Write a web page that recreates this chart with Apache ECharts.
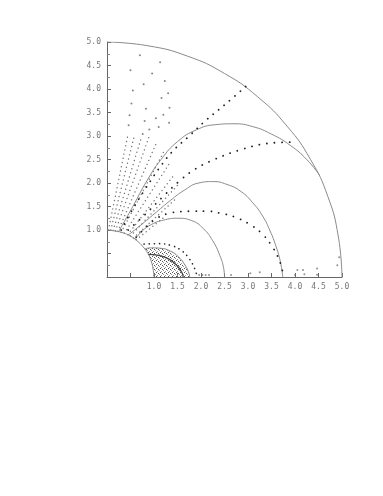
<!DOCTYPE html>
<html><head><meta charset="utf-8">
<script src="https://cdn.jsdelivr.net/npm/echarts@6/dist/echarts.min.js"></script>
<style>html,body{margin:0;padding:0;background:#fff}#c{width:383px;height:496px}</style>
</head><body><div id="c"></div>
<script>
// ---- data ----
const axisMin = 0, axisMax = 5, tickStep = 0.5;
const innerCircle = [[0,1],[0.17,0.98],[0.34,0.94],[0.5,0.87],[0.64,0.77],[0.77,0.64],[0.87,0.5],[0.94,0.34],[0.98,0.17],[1,0]];
const outerCircle = [[0,5],[0.87,4.92],[1.71,4.7],[2.5,4.33],[3.21,3.83],[3.83,3.21],[4.33,2.5],[4.7,1.71],[4.92,0.87],[5,0]];
const arcBig = [[0.25,0.97],[0.55,1.5],[0.85,2.05],[1.15,2.5],[1.5,2.88],[1.9,3.13],[2.3,3.24],[2.7,3.26],[3.1,3.2],[3.5,3.04],[3.9,2.8],[4.25,2.5],[4.52,2.17]];
const arc375 = [[0.45,0.89],[0.75,1.13],[1.05,1.38],[1.35,1.63],[1.65,1.85],[1.95,2.0],[2.25,2.03],[2.55,1.97],[2.85,1.82],[3.1,1.58],[3.31,1.3],[3.47,0.98],[3.6,0.64],[3.69,0.32],[3.74,0]];
const arc25 = [[0.6,0.8],[0.75,0.98],[0.95,1.12],[1.2,1.21],[1.5,1.25],[1.8,1.2],[2.05,1.03],[2.25,0.77],[2.4,0.46],[2.48,0.2],[2.5,0]];
const arcSmall = [[0.8,0.6],[0.95,0.62],[1.15,0.61],[1.35,0.55],[1.52,0.43],[1.65,0.27],[1.73,0.12],[1.76,0]];
const arcDense = [[0.88,0.48],[1.1,0.46],[1.32,0.38],[1.5,0.23],[1.6,0.08],[1.62,0]];
const stippleOutline = [[1,0],[0.98,0.17],[0.94,0.34],[0.87,0.5],[0.8,0.6],[0.95,0.62],[1.15,0.61],[1.35,0.55],[1.52,0.43],[1.65,0.27],[1.73,0.12],[1.76,0]];
const dots1 = [[0.3,1.0],[0.55,1.45],[0.8,1.85],[1.1,2.3],[1.4,2.68],[1.75,3.0],[2.1,3.33],[2.5,3.66],[2.97,4.07]];
const dots2 = [[0.45,1.0],[0.8,1.32],[1.2,1.72],[1.55,2.05],[1.85,2.28],[2.26,2.49],[2.82,2.7],[3.4,2.84],[3.96,2.87]];
const dots3 = [[0.62,0.85],[0.85,1.08],[1.06,1.25],[1.3,1.35],[1.58,1.39],[1.85,1.4],[2.12,1.4],[2.4,1.36],[2.71,1.28],[3.02,1.13],[3.3,0.92],[3.52,0.64],[3.68,0.32],[3.76,0]];
const dots4 = [[0.79,0.7],[1.1,0.71],[1.4,0.66],[1.6,0.55],[1.75,0.39],[1.86,0.19],[1.92,0]];
const fanRays = [
  [[0.03,1.0],[0.44,3.0]],
  [[0.08,1.0],[0.58,3.0]],
  [[0.13,0.99],[0.74,3.0]],
  [[0.18,0.98],[0.9,3.0]],
  [[0.23,0.97],[1.05,2.85]],
  [[0.3,0.95],[1.2,2.65]],
  [[0.37,0.93],[1.35,2.45]],
  [[0.44,0.9],[1.45,2.2]],
  [[0.5,0.87],[1.5,1.95]],
  [[0.56,0.83],[1.45,1.65]],
  [[0.62,0.79],[1.25,1.3]]
];
const sparseDots = [[0.7,4.72],[0.5,4.4],[1.13,4.57],[0.96,4.33],[0.78,4.1],[1.23,4.17],[0.55,3.97],[1.3,3.91],[1.16,3.81],[0.52,3.69],[0.83,3.58],[1.33,3.6],[1.2,3.45],[0.48,3.44],[1.04,3.38],[0.8,3.32],[1.32,3.28],[0.9,3.14],[0.46,3.23],[0.76,3.04],[1.1,3.19]];
const baseDots = [[1.96,0.04],[2.03,0.04],[2.1,0.04],[2.17,0.04],[2.64,0.04],[3.05,0.08],[3.25,0.1],[4.0,0.04],[4.05,0.15],[4.17,0.15],[4.2,0.06],[4.47,0.18],[4.47,0.05],[4.9,0.25],[4.94,0.42]];

// ---- chart ----
const pc = document.createElement('canvas'); pc.width = 4; pc.height = 4;
const g = pc.getContext('2d');
g.fillStyle = '#555'; g.fillRect(0,0,1,1); g.fillRect(2,1,1,1);
g.fillStyle = '#999'; g.fillRect(1,3,1,1); g.fillRect(3,2,1,1);
const solid = (d, c, w) => ({type:'line', data:d, smooth:0.5, showSymbol:false, silent:true, lineStyle:{color:c||'#8a8a8a', width:w||1}});
const dotted = (d, c, w, gap) => ({type:'line', data:d, smooth:0.4, showSymbol:false, silent:true, lineStyle:{color:c, width:w, type:[0.1, gap], cap:'round'}});
const series = [
  {type:'custom', silent:true, data:stippleOutline, encode:{x:0,y:1}, renderItem:(p, api)=>{
    if (p.dataIndex !== 0) return;
    const pts = stippleOutline.map(q=>api.coord(q));
    return {type:'polygon', shape:{points:pts, smooth:0.3}, style:{fill:{image:pc, repeat:'repeat'}}};
  }}
];
fanRays.forEach(r => series.push({type:'line', data:r, showSymbol:false, silent:true, lineStyle:{color:'#777', width:1.4, type:[0.1,4.2], cap:'round'}}));
series.push(solid(innerCircle), solid(outerCircle), solid(arcBig), solid(arc375), solid(arc25), solid(arcSmall),
  solid(arcDense, '#444', 1.3),
  dotted(dots1, '#222', 1.8, 7), dotted(dots2, '#222', 1.8, 7.5), dotted(dots3, '#222', 1.8, 7.5), dotted(dots4, '#222', 1.6, 5));
series.push({type:'scatter', data:sparseDots, symbolSize:2, silent:true, itemStyle:{color:'#666'}});
series.push({type:'scatter', data:baseDots, symbolSize:2, silent:true, itemStyle:{color:'#777'}});

const lab = {color:'#777', fontSize:8, fontFamily:'DejaVu Sans Mono', formatter:v => v >= 1 ? v.toFixed(1) : ''};
const chart = echarts.init(document.getElementById('c'), null, {renderer:'canvas'});
chart.setOption({
  animation:false, backgroundColor:'#fff',
  grid:{left:107, top:42, width:235, height:235},
  xAxis:{type:'value', min:axisMin, max:axisMax, interval:tickStep, splitLine:{show:false},
    axisLine:{lineStyle:{color:'#666', width:1}}, axisTick:{inside:true, length:4, lineStyle:{color:'#666'}},
    axisLabel:Object.assign({margin:6}, lab)},
  yAxis:{type:'value', min:axisMin, max:axisMax, interval:tickStep, splitLine:{show:false},
    axisLine:{lineStyle:{color:'#666', width:1}}, axisTick:{inside:true, length:4, lineStyle:{color:'#666'}},
    minorTick:{show:true, splitNumber:2, length:3, lineStyle:{color:'#888'}},
    axisLabel:Object.assign({margin:6}, lab)},
  series:series
});
</script></body></html>
